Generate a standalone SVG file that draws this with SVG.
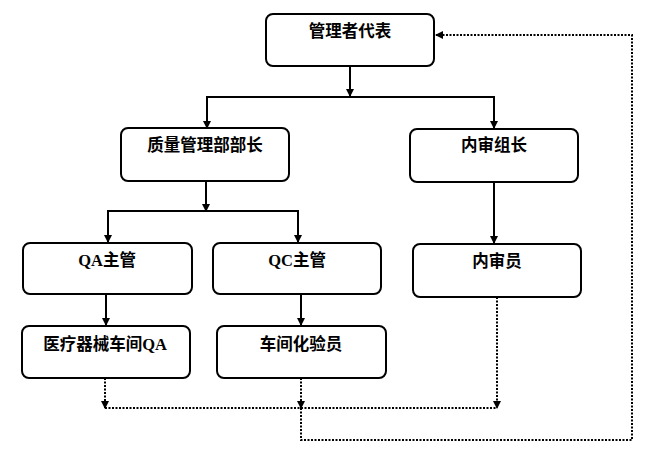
<svg xmlns="http://www.w3.org/2000/svg" width="648" height="459" viewBox="0 0 648 459">
<defs>
<marker id="ah" markerWidth="8" markerHeight="8" refX="7" refY="4" orient="auto" markerUnits="userSpaceOnUse">
<path d="M0,0 L8,4 L0,8 Z" fill="#000"/>
</marker>
<style>
.box{fill:#fff;stroke:#000;stroke-width:2}
.t{font-family:"Liberation Serif","Noto Sans CJK SC",serif;font-size:16.5px;font-weight:bold;text-anchor:middle;fill:#000}
.s{fill:none;stroke:#000;stroke-width:2}
.d{fill:none;stroke:#000;stroke-width:2;stroke-dasharray:2,1.5}
</style>
</defs>
<rect width="648" height="459" fill="#fff"/>
<g id="connectors">
<path class="s" d="M350,66 V96" marker-end="url(#ah)"/>
<path class="s" d="M207,128 V97 H494 V128" marker-end="url(#ah)"/>
<path class="s" d="M207,97 V128" marker-end="url(#ah)"/>
<path class="s" d="M206,181 V211" marker-end="url(#ah)"/>
<path class="s" d="M108,242 V211 H298 V242" marker-end="url(#ah)"/>
<path class="s" d="M108,211 V242" marker-end="url(#ah)"/>
<path class="s" d="M494,182 V243" marker-end="url(#ah)"/>
<path class="s" d="M106,294 V325" marker-end="url(#ah)"/>
<path class="s" d="M301,294 V325" marker-end="url(#ah)"/>
<path class="d" d="M105,378 V408" marker-end="url(#ah)"/>
<path class="d" d="M301,378 V408" marker-end="url(#ah)"/>
<path class="d" d="M497,297 V408" marker-end="url(#ah)"/>
<path class="d" d="M105,408 H497"/>
<path class="d" d="M301,408 V440 H632 V35 H436" marker-end="url(#ah)"/>
</g>
<g id="n1"><rect class="box" x="266" y="14" width="168" height="52" rx="7"/><text class="t" x="350" y="37">管理者代表</text></g>
<g id="n2"><rect class="box" x="121" y="128" width="168" height="53" rx="7"/><text class="t" x="205" y="151">质量管理部部长</text></g>
<g id="n3"><rect class="box" x="410" y="129" width="168" height="53" rx="7"/><text class="t" x="494" y="151">内审组长</text></g>
<g id="n4"><rect class="box" x="23" y="243" width="169" height="51" rx="7"/><text class="t" x="107" y="266">QA主管</text></g>
<g id="n5"><rect class="box" x="213" y="243" width="168" height="51" rx="7"/><text class="t" x="297" y="266">QC主管</text></g>
<g id="n6"><rect class="box" x="413" y="244" width="168" height="53" rx="7"/><text class="t" x="497" y="267">内审员</text></g>
<g id="n7"><rect class="box" x="22" y="326" width="168" height="52" rx="7"/><text class="t" x="105" y="350">医疗器械车间QA</text></g>
<g id="n8"><rect class="box" x="217" y="326" width="169" height="52" rx="7"/><text class="t" x="301" y="350">车间化验员</text></g>
</svg>
